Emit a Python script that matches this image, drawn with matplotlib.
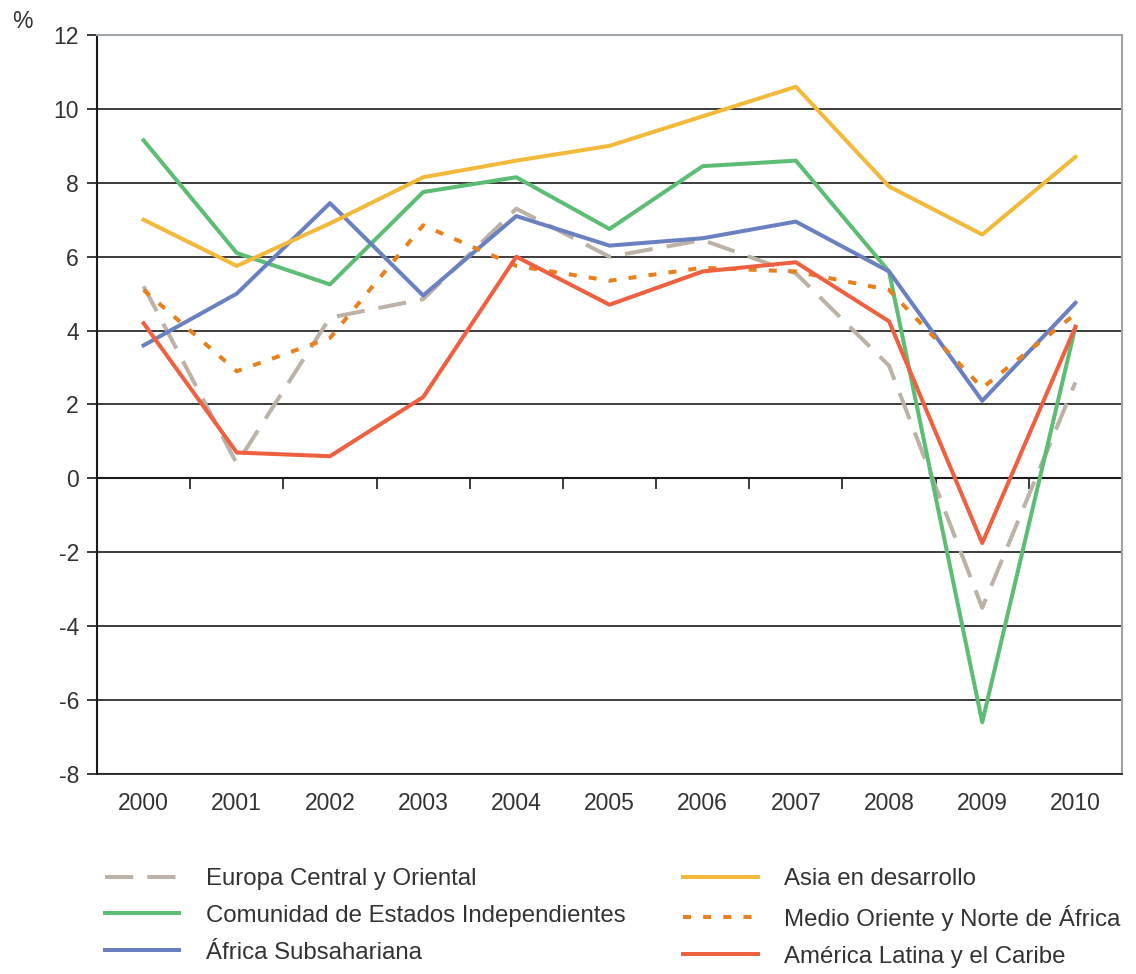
import matplotlib
matplotlib.use("Agg")
import matplotlib.pyplot as plt

plt.rcParams["font.family"] = ["Liberation Sans", "DejaVu Sans"]
plt.rcParams["axes.unicode_minus"] = False

years = ["2000", "2001", "2002", "2003", "2004", "2005",
         "2006", "2007", "2008", "2009", "2010"]

europa = [5.2, 0.4, 4.35, 4.85, 7.3, 6.0, 6.45, 5.55, 3.05, -3.5, 2.6]
cei = [9.15, 6.1, 5.25, 7.75, 8.15, 6.75, 8.45, 8.6, 5.6, -6.6, 4.1]
africa = [3.6, 5.0, 7.45, 4.95, 7.1, 6.3, 6.5, 6.95, 5.6, 2.1, 4.75]
asia = [7.0, 5.75, 6.9, 8.15, 8.6, 9.0, 9.8, 10.6, 7.9, 6.6, 8.7]
medio = [5.1, 2.9, 3.8, 6.85, 5.75, 5.35, 5.7, 5.6, 5.1, 2.45, 4.45]
latina = [4.2, 0.7, 0.6, 2.2, 6.0, 4.7, 5.6, 5.85, 4.25, -1.75, 4.1]

labels = ["Europa Central y Oriental", "Comunidad de Estados Independientes",
          "África Subsahariana", "Asia en desarrollo",
          "Medio Oriente y Norte de África", "América Latina y el Caribe"]

C_EUR = "#bcb2a6"
C_CEI = "#5dbd74"
C_AFR = "#6a80c0"
C_ASI = "#f2b93b"
C_MED = "#e8801e"
C_LAT = "#ef6040"

fig = plt.figure(figsize=(11.36, 9.74), dpi=100)
ax = fig.add_axes([97 / 1136, 1 - 774 / 974, (1122 - 97) / 1136, (774 - 35) / 974])

x = list(range(len(years)))
lw = 2.9
h_eur, = ax.plot(x, europa, color=C_EUR, lw=lw, linestyle=(0, (7, 3.5)), dash_capstyle="butt")
h_cei, = ax.plot(x, cei, color=C_CEI, lw=lw)
h_afr, = ax.plot(x, africa, color=C_AFR, lw=lw)
h_asi, = ax.plot(x, asia, color=C_ASI, lw=lw)
h_med, = ax.plot(x, medio, color=C_MED, lw=lw, linestyle=(0, (2, 3)), dash_capstyle="butt")
h_lat, = ax.plot(x, latina, color=C_LAT, lw=lw)

ax.set_xlim(-0.5, len(years) - 0.5)
ax.set_ylim(-8, 12)
ax.set_yticks(range(-8, 13, 2))
ax.yaxis.grid(True, color="#1a1a1a", lw=1.2)
ax.set_axisbelow(True)
ax.tick_params(axis="y", length=7, width=1.2, color="#1a1a1a", labelsize=16.5,
               labelcolor="#333333", pad=6)

ax.set_xticks(x)
ax.set_xticklabels(years)
ax.tick_params(axis="x", length=0, labelsize=16.5, labelcolor="#333333", pad=13)

# eje horizontal en y=0 con marcas entre categorías
sec = ax.secondary_xaxis(8 / 20)
sec.set_xticks([i + 0.5 for i in range(len(years) - 1)])
sec.set_xticklabels([])
sec.tick_params(axis="x", direction="out", length=8, width=1.2, color="#1a1a1a")
sec.spines["bottom"].set_color("#1a1a1a")
sec.spines["bottom"].set_linewidth(1.5)

ax.spines["left"].set_color("#1a1a1a")
ax.spines["left"].set_linewidth(1.5)
ax.spines["bottom"].set_color("#1a1a1a")
ax.spines["bottom"].set_linewidth(1.2)
for s in ("top", "right"):
    ax.spines[s].set_color("#a0a4a8")
    ax.spines[s].set_linewidth(1.5)

fig.text(12 / 1136, 1 - 22 / 974, "%", fontsize=16.5, color="#333333", va="center")

fig.legend([h_eur, h_cei, h_afr, h_asi, h_med, h_lat], labels, ncol=2,
           loc="upper left", bbox_to_anchor=(105 / 1136, 1 - 868 / 974),
           frameon=False, fontsize=17.3, handlelength=3.1, handletextpad=1.1,
           columnspacing=2.4, labelspacing=0.62, borderpad=0, borderaxespad=0,
           labelcolor="#333333")

fig.savefig("out.png", dpi=100)
